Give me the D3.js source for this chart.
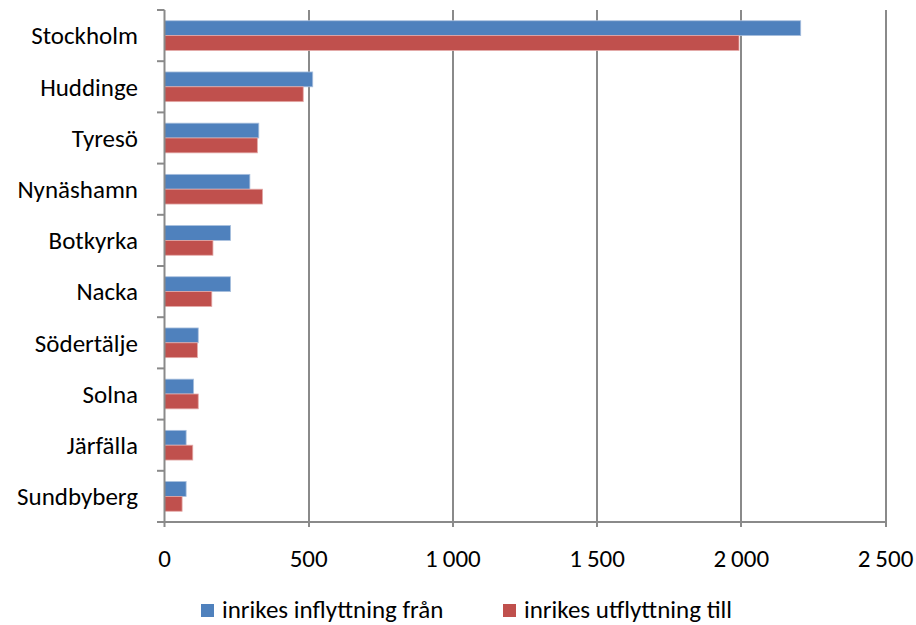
<!DOCTYPE html>
<html><head><meta charset="utf-8">
<script src="https://cdn.jsdelivr.net/npm/d3@7"></script>
<style>body{margin:0;background:#fff}svg{display:block}text{font-family:Carlito,Lato,'Open Sans',sans-serif;fill:#000}</style>
</head><body><svg id="c" width="916" height="625"></svg>
<script>
const categories = ["Stockholm","Huddinge","Tyresö","Nynäshamn","Botkyrka","Nacka","Södertälje","Solna","Järfälla","Sundbyberg"];
const inflyttning = [2206,514,327,296,229,229,117,101,75,75];
const utflyttning = [1992,481,322,340,168,164,114,117,98,61];
const seriesNames = ["inrikes inflyttning från","inrikes utflyttning till"];
const seriesColors = ["#4F81BD","#C0504D"];
const xTicks = [0,500,1000,1500,2000,2500];

const svg = d3.select("#c");
const m = {l:164.5, r:885.5, t:10, b:522};
const FS = 25;
const x = d3.scaleLinear().domain([0,2500]).range([m.l,m.r]);
const y = d3.scaleBand().domain(categories).range([m.t,m.b]).paddingInner(0.42).paddingOuter(0.21);
const fmt = v => d3.format(",")(v).replace(/,/g,"\u2009");

// gridlines
svg.append("g").selectAll("line").data(xTicks.slice(1)).join("line")
  .attr("x1",d=>Math.round(x(d))).attr("x2",d=>Math.round(x(d)))
  .attr("y1",m.t).attr("y2",m.b+5).attr("stroke","#8a8a8a").attr("stroke-width",2);

// bars
const data = categories.map((c,i)=>({c, v:[inflyttning[i],utflyttning[i]]}));
const g = svg.append("g");
data.forEach(d=>{
  d.v.forEach((v,j)=>{
    g.append("rect").attr("x",x(0)).attr("y",y(d.c)+j*y.bandwidth()/2)
     .attr("width",x(v)-x(0)).attr("height",y.bandwidth()/2)
     .attr("fill",seriesColors[j]).attr("stroke",j?"#e3a9a7":"#a9c0de").attr("stroke-width",0.8);
  });
});

// axes
svg.append("line").attr("x1",x(0)).attr("x2",x(0)).attr("y1",m.t).attr("y2",m.b+5).attr("stroke","#8a8a8a").attr("stroke-width",2);
const catTicks = d3.range(categories.length+1).map(i=>m.t+i*(m.b-m.t)/categories.length);
svg.append("g").selectAll("line").data(catTicks).join("line")
  .attr("x1",157).attr("x2",x(0)).attr("y1",d=>d).attr("y2",d=>d).attr("stroke","#8a8a8a").attr("stroke-width",2);
svg.append("line").attr("x1",x(0)).attr("x2",m.r).attr("y1",m.b).attr("y2",m.b).attr("stroke","#8a8a8a").attr("stroke-width",2);

// category labels
svg.append("g").selectAll("text").data(categories).join("text")
  .attr("x",138).attr("y",d=>y(d)+y.bandwidth()/2).attr("dy","0.35em")
  .attr("text-anchor","end").attr("font-size",FS).text(d=>d);

// x tick labels
svg.append("g").selectAll("text").data(xTicks).join("text")
  .attr("x",d=>x(d)).attr("y",558).attr("dy","0.35em").attr("text-anchor","middle")
  .attr("font-size",FS).text(d=>fmt(d));

// legend
const lg = svg.append("g");
const lx = [201,503];
seriesNames.forEach((n,i)=>{
  lg.append("rect").attr("x",lx[i]).attr("y",604).attr("width",13).attr("height",13).attr("fill",seriesColors[i]);
  lg.append("text").attr("x",lx[i]+21).attr("y",609).attr("dy","0.35em").attr("font-size",FS).text(n);
});
</script></body></html>
